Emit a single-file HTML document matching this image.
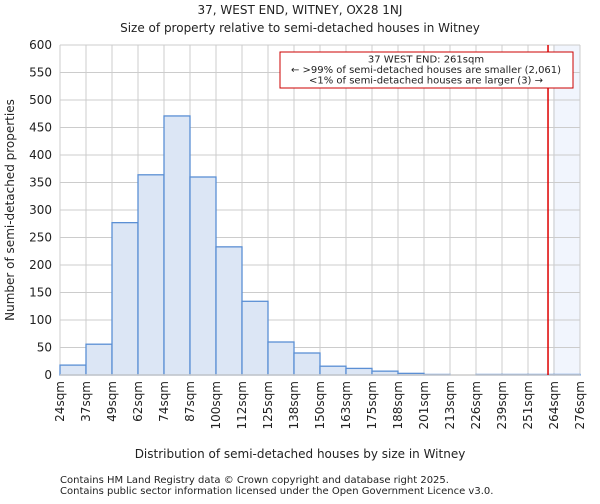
<!DOCTYPE html>
<html><head><meta charset="utf-8"><style>
body{margin:0;background:#fff;font-family:"DejaVu Sans","Liberation Sans",sans-serif;}
text{font-family:"DejaVu Sans","Liberation Sans",sans-serif;fill:#222;}
</style></head><body>
<svg id="c" width="600" height="500" xmlns="http://www.w3.org/2000/svg">
<text x="300" y="14" font-size="12" text-anchor="middle">37, WEST END, WITNEY, OX28 1NJ</text>
<text x="300" y="32" font-size="12" text-anchor="middle">Size of property relative to semi-detached houses in Witney</text>
<g id="plot"></g>
<text x="300" y="458" font-size="12" text-anchor="middle">Distribution of semi-detached houses by size in Witney</text>
<text transform="translate(14,210) rotate(-90)" font-size="12" text-anchor="middle">Number of semi-detached properties</text>
<text x="60" y="483" font-size="10" fill="#444">Contains HM Land Registry data © Crown copyright and database right 2025.</text>
<text x="60" y="494" font-size="10" fill="#444">Contains public sector information licensed under the Open Government Licence v3.0.</text>
</svg>
<script>
const binLabels=["24sqm","37sqm","49sqm","62sqm","74sqm","87sqm","100sqm","112sqm","125sqm","138sqm","150sqm","163sqm","175sqm","188sqm","201sqm","213sqm","226sqm","239sqm","251sqm","264sqm","276sqm"];
const counts=[18,56,277,364,471,360,233,134,60,40,16,12,7,3,1,0,1,1,1,1];
const yTicks=[0,50,100,150,200,250,300,350,400,450,500,550,600];
const propertyBinPos=18.77; // 261sqm in bin-index units
const NS="http://www.w3.org/2000/svg";
const L=60,R=580,T=45,B=375,yMax=600;
const n=counts.length, bw=(R-L)/n;
const x=i=>L+i*bw, y=v=>B-v/yMax*(B-T);
const g=document.getElementById('plot');
function mk(t,a,p){const e=document.createElementNS(NS,t);for(const k in a)e.setAttribute(k,a[k]);(p||g).appendChild(e);return e;}
let sh=mk('rect',{x:x(propertyBinPos)+5,y:T,width:R-x(propertyBinPos)-5,height:B-T,fill:'#eef3fc',opacity:0.8});


yTicks.forEach(v=>{let l=mk('line',{x1:L,x2:R,y1:y(v),y2:y(v),stroke:'#ccc','stroke-width':1});


let t=mk('text',{x:L-8,y:y(v)+4,'font-size':12,'text-anchor':'end'});t.textContent=v;

});
binLabels.forEach((s,i)=>{let l=mk('line',{x1:x(i),x2:x(i),y1:T,y2:B,stroke:'#ccc','stroke-width':1});


let t=mk('text',{transform:`translate(${x(i)+4},${B+6}) rotate(-90)`,'font-size':12,'text-anchor':'end'});t.textContent=s;

});
counts.forEach((c,i)=>{if(c<=0)return;let r=mk('rect',{x:x(i),y:y(c),width:bw,height:B-y(c),fill:'#dce6f5',stroke:'#5b8fd4','stroke-width':1.3});

});
let ax=mk('line',{x1:L,x2:R,y1:B,y2:B,stroke:'#ccc','stroke-width':1.5});


let ml=mk('line',{x1:x(propertyBinPos),x2:x(propertyBinPos),y1:T,y2:B,stroke:'#d00','stroke-width':1.5});


let ab=mk('rect',{x:280,y:52,width:293,height:36,fill:'#fff',stroke:'#c00','stroke-width':1});


["37 WEST END: 261sqm","← >99% of semi-detached houses are smaller (2,061)","<1% of semi-detached houses are larger (3) →"].forEach((s,i)=>{
let t=mk('text',{x:426,y:62.5+i*10.5,'font-size':10,'text-anchor':'middle'});t.textContent=s;

});
</script>
</body></html>
